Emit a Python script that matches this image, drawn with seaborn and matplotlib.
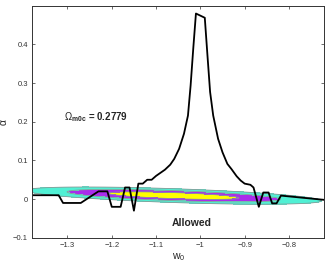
import numpy as np
import pandas as pd
import seaborn as sns
import matplotlib.pyplot as plt
from matplotlib.ticker import FuncFormatter

# boundary curve
curve_w0 = [-1.38, -1.32, -1.31, -1.27, -1.23, -1.21, -1.20, -1.18, -1.17, -1.16,
            -1.15, -1.14, -1.13, -1.12, -1.11, -1.10, -1.08, -1.068, -1.059, -1.048,
            -1.037, -1.028, -1.022, -1.016, -1.01, -0.99, -0.984, -0.978, -0.971, -0.96,
            -0.95, -0.939, -0.93, -0.918, -0.909, -0.90, -0.887, -0.88, -0.868, -0.858,
            -0.846, -0.838, -0.828, -0.818, -0.72]
curve_alpha = [0.01, 0.01, -0.01, -0.01, 0.02, 0.02, -0.02, -0.02, 0.03, 0.03,
               -0.03, 0.04, 0.04, 0.05, 0.05, 0.06, 0.076, 0.089, 0.104, 0.13,
               0.169, 0.216, 0.294, 0.39, 0.48, 0.469, 0.372, 0.277, 0.216, 0.156,
               0.121, 0.091, 0.078, 0.059, 0.048, 0.04, 0.037, 0.03, -0.02, 0.017,
               0.017, -0.011, -0.011, 0.009, -0.002]

# likelihood ellipse (centre, tilt, widths) and confidence levels
ell_w0 = -1.06
ell_alpha = 0.009
ell_slope = -0.04
ell_sig_w0 = 0.097
ell_sig_alpha = 0.0052
chi2_levels = [0, 2.3, 6.17, 11.8]
fill_colors = ['#ffff00', '#aa2cec', '#50f0d4']

omega_text = 0.2779

sns.set_style("ticks")
plt.rcParams['font.family'] = ['Liberation Sans', 'DejaVu Sans']
plt.rcParams['mathtext.fontset'] = 'custom'
plt.rcParams['mathtext.rm'] = 'Liberation Sans'
plt.rcParams['mathtext.it'] = 'Liberation Sans:italic'
plt.rcParams['mathtext.bf'] = 'Liberation Sans:bold'

fig = plt.figure(figsize=(3.27, 2.63), dpi=100)
ax = fig.add_axes([0.098, 0.096, 0.894, 0.882])

# contour field
gx = np.linspace(-1.45, -0.65, 500)
gy = np.linspace(-0.06, 0.07, 400)
X, Y = np.meshgrid(gx, gy)
D = Y - (ell_alpha + ell_slope * (X - ell_w0))
chi2 = ((X - ell_w0) / ell_sig_w0) ** 2 + (D / ell_sig_alpha) ** 2
ax.contourf(X, Y, chi2, levels=chi2_levels, colors=fill_colors)
ax.contour(X, Y, chi2, levels=chi2_levels[1:], colors='#8a9a98', linewidths=0.6)

df = pd.DataFrame({'w0': curve_w0, 'alpha': curve_alpha})
sns.lineplot(data=df, x='w0', y='alpha', sort=False, color='black', linewidth=1.3, ax=ax)

ax.text(-1.308, 0.211, r'$\Omega_{\mathbf{m0c}}$' + ' = %.4f' % omega_text,
        fontsize=7, fontweight='bold', va='center')
ax.text(-1.02, -0.062, 'Allowed', fontsize=7.5, fontweight='bold', ha='center', va='center')

ax.set_xlim(-1.38, -0.72)
ax.set_ylim(-0.1, 0.5)
ax.set_xticks([-1.3, -1.2, -1.1, -1.0, -0.9, -0.8])
ax.set_yticks([-0.1, 0, 0.1, 0.2, 0.3, 0.4])
fmt = FuncFormatter(lambda v, p: ('%g' % round(v, 3)).replace('-', '\u2212'))
ax.xaxis.set_major_formatter(fmt)
ax.yaxis.set_major_formatter(fmt)
ax.tick_params(direction='in', top=True, right=True, length=2.5, width=0.5,
               labelsize=5.5, colors='#333333', pad=3)
for s in ax.spines.values():
    s.set_linewidth(0.7)
    s.set_color('#333333')

ax.set_xlabel(r'w$_0$', fontsize=7.5, labelpad=2)
ax.set_ylabel('\u03b1', fontsize=7.5, labelpad=3)

fig.savefig('out.png', dpi=100)
